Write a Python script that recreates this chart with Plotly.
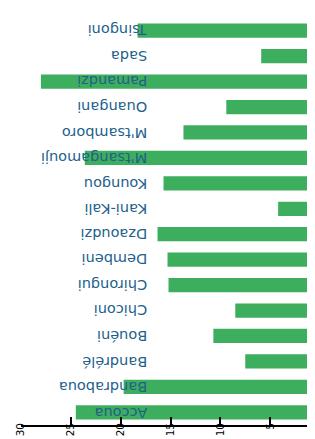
import plotly.graph_objects as go

communes = ["Accoua", "Bandraboua", "Bandrélé", "Bouéni", "Chiconi", "Chirongui",
            "Dembeni", "Dzaoudzi", "Kani-Kali", "Koungou", "M'tsangamouji",
            "M'tsamboro", "Ouangani", "Pamandzi", "Sada", "Tsingoni"]
values = [24.5, 19.7, 7.5, 10.7, 8.5, 15.2, 15.3, 16.3, 4.2, 15.7, 23.6,
          13.7, 9.4, 28.0, 5.9, 18.3]
tick_vals = [0, 5, 10, 15, 20, 25, 30]

fig = go.Figure()
fig.add_trace(go.Bar(
    y=communes, x=values, orientation="h",
    marker=dict(color="#3dae5d", line=dict(width=0)),
    width=0.56,
))

for c in communes:
    fig.add_annotation(
        x=0.43, xref="paper", y=c, yref="y",
        text=c, showarrow=False, textangle=180,
        xanchor="right", yanchor="middle",
        font=dict(family="DejaVu Sans", size=14.5, color="#235f8c"),
    )

fig.update_layout(
    width=315, height=439,
    margin=dict(l=13, r=3, t=10, b=22),
    paper_bgcolor="white", plot_bgcolor="white",
    showlegend=False,
    bargap=0.44,
)
fig.update_xaxes(
    range=[30, 0], side="bottom",
    tickvals=tick_vals, ticktext=[str(v) for v in tick_vals],
    tickangle=-90,
    ticks="inside", ticklen=8, tickwidth=1.5, tickcolor="black",
    showline=True, linecolor="black", linewidth=1.5,
    showgrid=False, zeroline=False,
    ticklabelstandoff=-8,
    tickfont=dict(family="DejaVu Sans", size=10.5, color="black"),
)
fig.update_yaxes(
    categoryorder="array", categoryarray=communes,
    side="right", showticklabels=False,
    ticks="inside", ticklen=7, tickwidth=1.5, tickcolor="black",
    tickson="boundaries",
    showline=True, linecolor="black", linewidth=1.5,
    showgrid=False, zeroline=False,
)

fig.write_html("out.html")
